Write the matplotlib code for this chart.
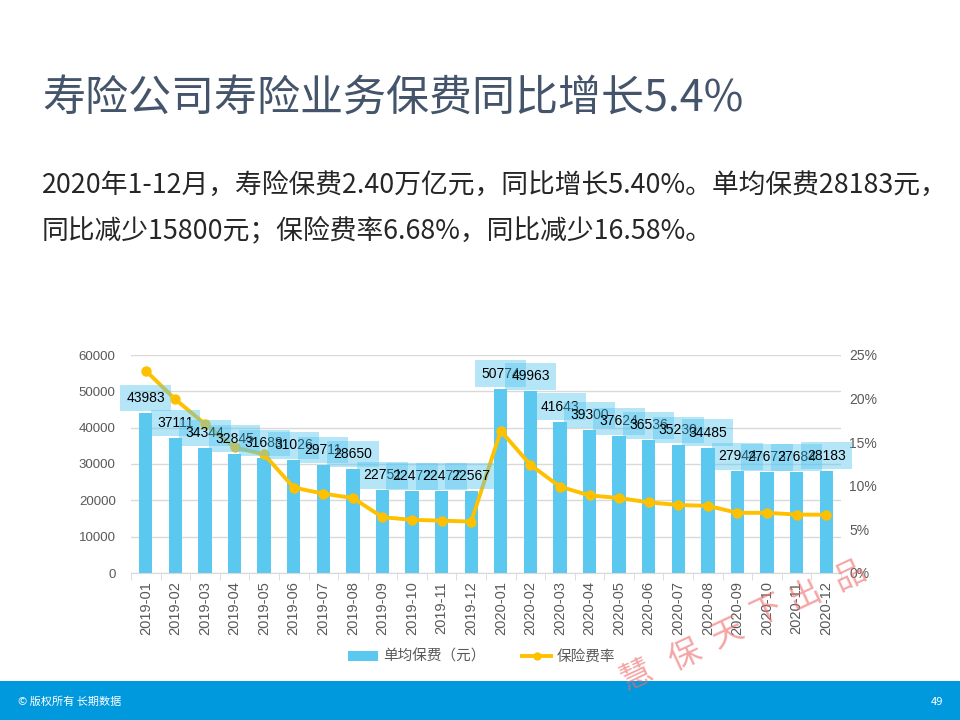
import matplotlib
matplotlib.use("Agg")
import matplotlib.pyplot as plt
from matplotlib.patches import Patch
from matplotlib.lines import Line2D
import numpy as np

plt.rcParams['font.family'] = ['Noto Sans CJK SC', 'DejaVu Sans']

months = ["2019-01", "2019-02", "2019-03", "2019-04", "2019-05", "2019-06",
          "2019-07", "2019-08", "2019-09", "2019-10", "2019-11", "2019-12",
          "2020-01", "2020-02", "2020-03", "2020-04", "2020-05", "2020-06",
          "2020-07", "2020-08", "2020-09", "2020-10", "2020-11", "2020-12"]
avg_premium = [43983, 37111, 34344, 32845, 31688, 31026, 29711, 28650, 22751, 22472, 22477, 22567,
               50774, 49963, 41643, 39300, 37624, 36536, 35230, 34485, 27944, 27673, 27684, 28183]
premium_rate = [23.2, 19.9, 17.1, 14.4, 13.6, 9.8, 9.1, 8.6, 6.4, 6.1, 6.0, 5.9,
                16.3, 12.4, 9.9, 8.9, 8.6, 8.1, 7.8, 7.7, 6.9, 6.9, 6.7, 6.68]
left_ticks = [0, 10000, 20000, 30000, 40000, 50000, 60000]
right_ticks = [0, 5, 10, 15, 20, 25]

title = "寿险公司寿险业务保费同比增长5.4%"
line1 = "2020年1-12月，寿险保费2.40万亿元，同比增长5.40%。单均保费28183元，"
line2 = "同比减少15800元；保险费率6.68%，同比减少16.58%。"
bar_name = "单均保费（元）"
line_name = "保险费率"
footer_left = "© 版权所有 长期数据"
footer_right = "49"
watermark = ["慧", "保", "天", "下", "出", "品"]

W, H = 960, 720
fig = plt.figure(figsize=(9.6, 7.2), dpi=100)
fig.patch.set_facecolor("white")

def fx(px):
    return px / W

def fy(py):
    return 1 - py / H

BAR_C = "#5BC8F0"
LINE_C = "#FFC000"
GRID_C = "#D9D9D9"
TICK_C = "#595959"
NUM_FONT = ['Liberation Sans']

ax = fig.add_axes([fx(131), fy(573), fx(841) - fx(131), fy(355) - fy(573)])
x = np.arange(len(months))
ax.bar(x, avg_premium, width=0.45, color=BAR_C, zorder=2)
ax.set_xlim(-0.5, len(months) - 0.5)
ax.set_ylim(0, 60000)
ax.set_yticks(left_ticks)
ax.set_yticklabels([str(v) for v in left_ticks], color=TICK_C, fontsize=9.5, family=NUM_FONT)
ax.yaxis.grid(True, color=GRID_C, lw=1, zorder=0)
ax.set_axisbelow(True)
for s in ["top", "right", "left"]:
    ax.spines[s].set_visible(False)
ax.spines["bottom"].set_color(GRID_C)
ax.tick_params(axis="y", length=0, pad=11)
ax.set_xticks(x)
ax.set_xticklabels(months, rotation=90, color=TICK_C, fontsize=10.5, family=NUM_FONT)
ax.tick_params(axis="x", length=0, pad=6)
ax.set_xticks(np.arange(-0.5, len(months), 1), minor=True)
ax.tick_params(axis="x", which="minor", length=5, color=GRID_C)

ax2 = ax.twinx()
ax2.plot(x, premium_rate, color=LINE_C, lw=2.8, marker="o", markersize=6.5, zorder=3)
ax2.set_ylim(0, 25)
ax2.set_yticks(right_ticks)
ax2.set_yticklabels([f"{v}%" for v in right_ticks], color=TICK_C, fontsize=10, family=NUM_FONT)
ax2.tick_params(axis="y", length=0, pad=6)
for s in ["top", "right", "left", "bottom"]:
    ax2.spines[s].set_visible(False)

for i, v in enumerate(avg_premium):
    ax2.annotate(str(v), xy=(i, v), xycoords=ax.transData, xytext=(0, 15),
                 textcoords="offset pixels", ha="center", va="center",
                 fontsize=10, color="black", family=NUM_FONT, zorder=5,
                 bbox=dict(boxstyle="square,pad=0.45", fc=BAR_C, ec="none", alpha=0.45))

handles = [Patch(facecolor=BAR_C, edgecolor="none"),
           Line2D([0], [0], color=LINE_C, lw=2.8, marker="o", markersize=5)]
fig.legend(handles, [bar_name, line_name], loc="center", bbox_to_anchor=(fx(482), fy(657)),
           ncol=2, frameon=False, fontsize=10.5, labelcolor=TICK_C, handlelength=2.0,
           handletextpad=0.4, columnspacing=2.5)

fig.text(fx(42), fy(100), title, fontsize=31, color="#44546A", va="center", ha="left")
fig.text(fx(42), fy(185), line1, fontsize=19.3, color="#262626", va="center", ha="left",
         fontweight="light")
fig.text(fx(42), fy(230), line2, fontsize=19.3, color="#262626", va="center", ha="left",
         fontweight="light")

fig.patches.append(plt.Rectangle((0, 0), 1, fy(681), transform=fig.transFigure,
                                 facecolor="#0099DD", edgecolor="none", zorder=0))
fig.text(fx(18), fy(702), footer_left, fontsize=8, color="white", va="center", ha="left")
fig.text(fx(943), fy(702), footer_right, fontsize=8, color="white", va="center", ha="right")

wm_pos = [(637, 675), (685, 655), (727, 633), (767, 610), (805, 595), (850, 575)]
for ch, (px, py) in zip(watermark, wm_pos):
    fig.text(fx(px), fy(py), ch, fontsize=23, color="#EE6A6A", alpha=0.6,
             rotation=25, ha="center", va="center", zorder=10)

fig.savefig("out.png", dpi=100)
